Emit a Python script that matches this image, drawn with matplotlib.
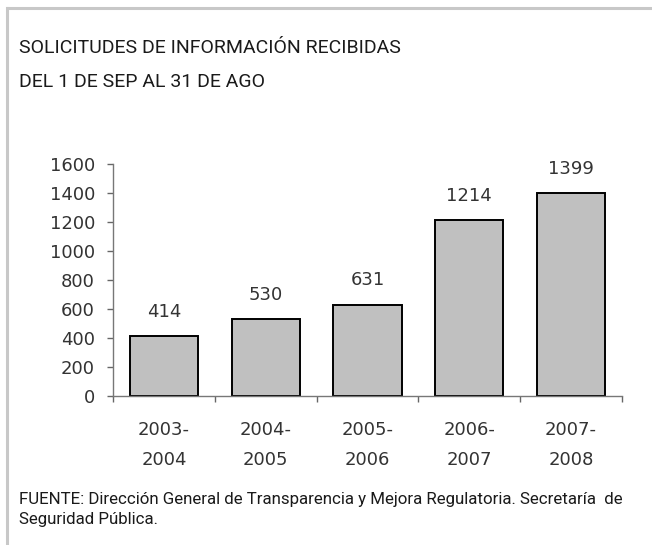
import matplotlib
matplotlib.use("Agg")
import matplotlib.pyplot as plt
from matplotlib.lines import Line2D

categories = ["2003-\n2004", "2004-\n2005", "2005-\n2006", "2006-\n2007", "2007-\n2008"]
values = [414, 530, 631, 1214, 1399]
yticks = [0, 200, 400, 600, 800, 1000, 1200, 1400, 1600]
title_lines = ["SOLICITUDES DE INFORMACIÓN RECIBIDAS", "DEL 1 DE SEP AL 31 DE AGO"]
footer_lines = ["FUENTE: Dirección General de Transparencia y Mejora Regulatoria. Secretaría  de",
                "Seguridad Pública."]

W, H = 652, 545
fig = plt.figure(figsize=(W / 100, H / 100), dpi=100)
fig.patch.set_facecolor("white")

ax = fig.add_axes([113 / W, 1 - 396 / H, (622 - 113) / W, (396 - 164) / H])
x = list(range(len(values)))
ax.bar(x, values, width=0.67, color="#c0c0c0", edgecolor="black", linewidth=1.4, zorder=2)

ax.set_xlim(-0.5, len(values) - 0.5)
ax.set_ylim(0, 1600)
ax.set_yticks(yticks)
ax.set_yticklabels([str(t) for t in yticks])

ax.set_xticks([i - 0.5 for i in range(len(values) + 1)])
ax.set_xticklabels([])
ax.set_xticks(x, minor=True)
ax.set_xticklabels(categories, minor=True, fontsize=13, color="#333333",
                   family="DejaVu Sans", linespacing=1.85)
ax.tick_params(axis="x", which="minor", length=0, pad=18)
ax.tick_params(axis="x", which="major", length=4.5, width=1, color="#666666", direction="out")
ax.tick_params(axis="y", length=4.5, width=1, color="#666666", direction="out",
               labelsize=13, labelcolor="#333333", pad=8.5)

for s in ["top", "right"]:
    ax.spines[s].set_visible(False)
for s in ["left", "bottom"]:
    ax.spines[s].set_color("#777777")
    ax.spines[s].set_linewidth(1.0)

for xi, v in zip(x, values):
    ax.annotate(str(v), (xi, v), xytext=(0, 11), textcoords="offset points",
                ha="center", va="bottom", fontsize=13, color="#333333", family="DejaVu Sans")

# titles
for txt, yb in zip(title_lines, [53, 87]):
    fig.text(19 / W, 1 - yb / H, txt, fontsize=14, family="Roboto",
             color="#1a1a1a", va="baseline", ha="left")

# footer
for txt, yb in zip(footer_lines, [504, 524]):
    fig.text(19 / W, 1 - yb / H, txt, fontsize=12.2, family="Roboto",
             color="#1a1a1a", va="baseline", ha="left")

# frame border (top and left)
fig.add_artist(Line2D([7.5 / W, 1.0], [1 - 7.5 / H, 1 - 7.5 / H], transform=fig.transFigure,
                      color="#c8c8c8", linewidth=2.2))
fig.add_artist(Line2D([7 / W, 7 / W], [0, 1 - 7.5 / H], transform=fig.transFigure,
                      color="#c8c8c8", linewidth=2.2))

fig.savefig("out.png", dpi=100, facecolor="white")
